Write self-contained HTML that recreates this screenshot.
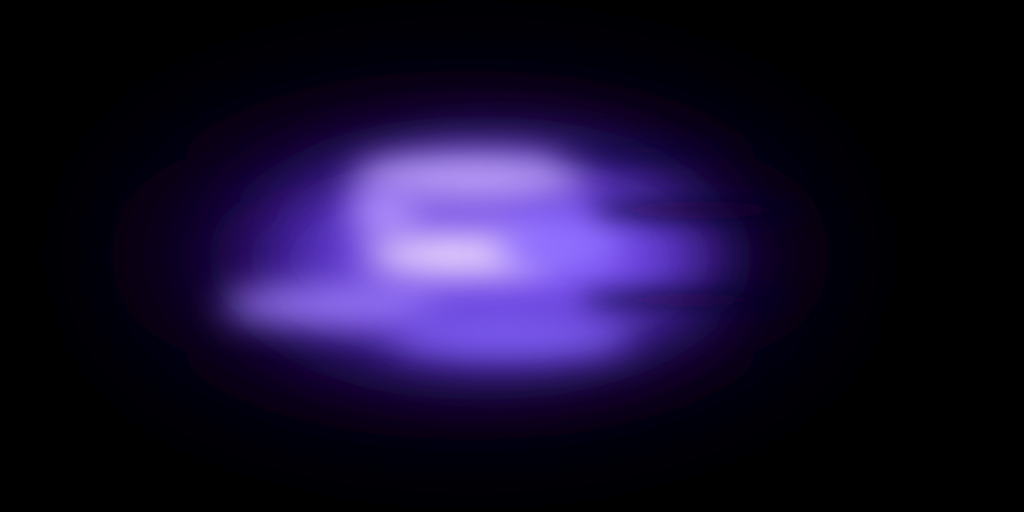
<!DOCTYPE html>
<html>
<head>
<meta charset="utf-8">
<style>
  html,body{margin:0;padding:0;background:#000;width:1024px;height:512px;overflow:hidden;}
  svg{display:block;}
</style>
</head>
<body>
<svg width="1024" height="512" viewBox="0 0 1024 512">
  <defs>
    <filter id="b70" x="-100%" y="-100%" width="300%" height="300%"><feGaussianBlur stdDeviation="70"/></filter>
    <filter id="b40" x="-100%" y="-100%" width="300%" height="300%"><feGaussianBlur stdDeviation="40"/></filter>
    <filter id="b20" x="-100%" y="-100%" width="300%" height="300%"><feGaussianBlur stdDeviation="18"/></filter>
    <filter id="b12" x="-100%" y="-200%" width="300%" height="500%"><feGaussianBlur stdDeviation="12"/></filter>
  </defs>
  <rect width="1024" height="512" fill="#000"/>
  <ellipse cx="470" cy="255" rx="330" ry="140" fill="#140640" filter="url(#b70)"/>
  <ellipse cx="480" cy="258" rx="240" ry="105" fill="#3c1a98" filter="url(#b40)"/>
  <ellipse cx="500" cy="255" rx="190" ry="82" fill="#7850f0" filter="url(#b40)"/>
  <ellipse cx="330" cy="305" rx="110" ry="18" fill="#a080ff" filter="url(#b20)"/>
  <ellipse cx="470" cy="178" rx="115" ry="22" fill="#c4a8ff" filter="url(#b20)"/>
  <ellipse cx="385" cy="212" rx="35" ry="25" fill="#b090ff" filter="url(#b20)"/>
  <ellipse cx="460" cy="255" rx="95" ry="20" fill="#f6e4ff" filter="url(#b20)"/>
  <ellipse cx="560" cy="245" rx="60" ry="30" fill="#9070ff" filter="url(#b20)"/>
  <ellipse cx="510" cy="335" rx="120" ry="20" fill="#8060f8" filter="url(#b20)"/>
  <ellipse cx="700" cy="210" rx="110" ry="10" fill="#0a0028" opacity="0.8" filter="url(#b12)"/>
  <ellipse cx="690" cy="300" rx="110" ry="9" fill="#0a0028" opacity="0.8" filter="url(#b12)"/>
  <ellipse cx="640" cy="150" rx="90" ry="8" fill="#0a0030" opacity="0.6" filter="url(#b12)"/>
</svg>
</body>
</html>
